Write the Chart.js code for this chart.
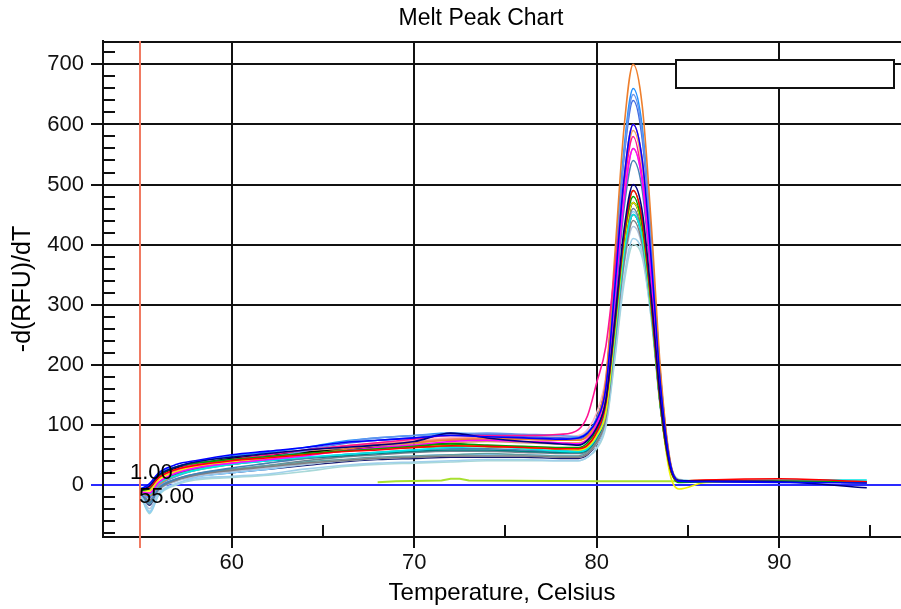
<!DOCTYPE html>
<html><head><meta charset="utf-8">
<script src="https://cdn.jsdelivr.net/npm/chart.js@4.4.1/dist/chart.umd.min.js"></script>
<style>
html,body{margin:0;padding:0;background:#fff;overflow:hidden;width:901px;height:609px}
#wrap{position:absolute;left:0;top:0;width:904px;height:609px}
canvas{display:block}
</style></head>
<body><div id="wrap"><canvas id="c" width="904" height="609"></canvas></div>
<script>
// Temperatures (°C) shared by all sample curves
const TEMPS = [55,55.5,56,57,58,60,62,64,66,68,70,72,74,76,78,79,79.5,80,80.5,81,81.5,82,82.5,83,83.5,84,84.5,86,90,94.8];

// -d(RFU)/dT values per sample
const S01 = [-8,2,20,34,40,50,56,62,70,74,78,82,80,78,76,78,86,108,160,330,510,600,540,370,165,40,6,5,4,3];
const S02 = [-10,-2,16,30,38,46,52,58,62,66,72,86,78,72,68,66,74,95,140,275,425,500,455,310,140,34,7,6,5,-5];
const S03 = [-8,-4,12,26,32,40,45,50,55,58,62,65,64,62,60,60,66,88,135,270,415,490,440,300,135,32,6,8,10,5];
const S04 = [-10,-6,14,30,36,42,47,52,56,60,64,68,66,64,62,62,70,92,140,265,410,480,430,295,130,30,4,5,6,4];
const S05 = [-12,-14,4,20,28,36,42,48,56,62,66,72,74,72,70,68,76,100,160,310,475,560,505,345,155,36,5,6,5,4];
const S06 = [-8,-4,12,26,34,42,50,58,64,70,76,82,82,82,84,92,115,170,230,360,500,580,510,350,155,35,6,7,6,5];
const S07 = [-10,-10,8,22,30,38,44,50,56,60,64,66,64,62,60,58,63,82,120,255,400,470,425,290,130,20,-7,4,5,4];
const S08 = [-12,-16,2,16,24,34,40,46,50,54,58,62,64,60,56,55,60,80,120,245,385,450,410,285,130,34,6,5,8,8];
const S09 = [-12,-18,0,16,24,34,42,50,58,66,70,74,76,76,74,74,82,108,175,385,595,700,630,430,190,45,6,7,6,5];
const S10 = [-14,-22,-2,14,24,36,46,56,70,78,82,84,86,84,82,80,88,110,170,355,550,650,585,400,180,42,6,5,5,4];
const S11 = [-14,-30,-6,10,18,28,36,44,50,54,58,60,60,58,56,56,62,84,130,295,460,540,490,335,150,38,7,6,5,5];
const S12 = [-12,-28,-8,8,16,24,30,36,40,44,46,48,48,48,46,46,52,70,110,235,370,440,400,285,130,35,8,5,5,4];
const S13 = [-8,-4,14,28,34,44,50,54,58,62,64,68,64,62,60,60,64,84,128,255,400,470,425,290,130,32,6,6,5,4];
const S14 = [-14,-44,-14,2,10,14,18,26,32,36,38,40,42,42,40,40,46,62,100,215,345,410,385,275,125,35,8,6,5,6];
const S15 = [-10,-8,10,24,32,40,48,56,64,68,72,76,78,76,74,74,80,102,155,330,510,600,540,370,165,40,6,8,7,5];
const S16 = [-12,-18,2,17,25,34,40,44,48,52,56,58,58,56,54,54,58,78,118,255,400,470,425,290,130,32,6,5,5,4];
const S17 = [-12,-20,2,18,27,38,48,58,68,74,78,84,82,80,78,76,84,108,168,350,545,640,575,395,175,42,6,5,5,4];
const S18 = [-10,-10,8,22,30,40,48,56,64,70,74,78,80,80,80,82,92,120,180,335,510,600,540,370,165,40,6,7,8,6];
const S19 = [-14,-40,-10,6,14,22,28,34,40,44,46,48,48,48,46,46,52,68,108,230,365,430,395,280,128,36,8,6,5,5];
const S20 = [-10,-14,4,20,28,38,46,54,60,64,68,70,72,70,68,68,74,96,145,305,475,560,505,345,155,36,6,8,7,5];
const S21 = [-12,-32,-6,10,18,26,32,38,42,46,48,50,52,50,48,48,54,72,112,245,380,450,410,285,128,34,7,5,5,4];
const S22 = [-12,-26,-4,9,17,25,32,40,46,50,54,56,56,54,52,52,56,76,116,250,390,460,415,290,130,34,7,6,5,5];
const S23 = [-16,-46,-16,2,12,20,26,34,40,44,48,50,50,50,48,48,54,72,112,245,385,455,412,290,132,36,8,6,5,6];
const S24 = [-6,0,18,30,38,48,54,62,72,78,82,86,84,82,80,78,86,112,170,365,560,660,595,405,180,42,6,5,5,4];
const S25 = [-12,-34,-8,8,14,20,26,32,38,42,44,46,46,46,44,44,50,68,108,240,380,450,410,288,130,35,7,6,5,4];
const S26 = [-10,-14,4,18,26,36,44,52,60,66,72,74,74,72,70,70,76,98,150,325,500,590,530,365,162,38,6,8,6,5];
const S27 = [-16,-48,-18,0,8,12,16,22,30,34,36,38,40,40,40,40,46,60,96,210,335,400,378,275,128,38,9,6,5,5];
const S28 = [-10,-8,10,24,31,41,47,52,56,60,62,64,64,62,60,60,66,86,130,270,415,490,440,300,135,32,5,5,6,4];

// Negative control (flat trace)
const CONTROL_TEMPS  = [68,69,71.5,72,72.5,73,80,85,90,94.8];
const CONTROL_VALUES = [4,6,7,10,10,7,6,6,6,5];

// Axis ticks
const X_MAJOR_STEP = 10;
const Y_MAJOR_STEP = 100;
const X_MINOR = [55,65,75,85,95];
const Y_MINOR = [];
for (let v = -80; v <= 720; v += 20) if (v % 100 !== 0) Y_MINOR.push(v);

const CURSOR_T = 55;
const CURSOR_LABEL_Y = "1.00";
const CURSOR_LABEL_X = "55.00";

const SERIES = [S01,S02,S03,S04,S05,S06,S07,S08,S09,S10,S11,S12,S13,S14,S15,S16,S17,S18,S19,S20,S21,S22,S23,S24,S25,S26,S27,S28];
const COLORS = ['#0000ff','#000080','#ff0000','#00a000','#ff00ff','#ff1493','#f0f000','#00e8e8','#ee7f2d','#6495ed',
                '#4682b4','#808080','#000000','#9fd0ea','#fa8072','#008080','#4169e1','#ffb6c1','#b0c4de','#d2a070',
                '#5f9ea0','#708090','#87cefa','#1e90ff','#191970','#f4a460','#a8d8d8','#6b8e23'];

const FONT = "'Liberation Sans', Arial, sans-serif";
const BLUE = '#2a2aff';
const INK = '#111111';

const datasets = SERIES.map((vals, i) => ({
  data: vals.map((v, j) => ({x: TEMPS[j], y: v})),
  borderColor: COLORS[i], borderWidth: 1.6, pointRadius: 0, fill: false,
  cubicInterpolationMode: 'monotone'
}));
datasets.push({
  data: CONTROL_VALUES.map((v, j) => ({x: CONTROL_TEMPS[j], y: v})),
  borderColor: '#a8e030', borderWidth: 2, pointRadius: 0, fill: false
});

const decor = {
  id: 'decor',
  beforeDatasetsDraw(chart) {
    const {ctx, chartArea: a, scales: {x, y}} = chart;
    ctx.save();
    ctx.strokeStyle = INK; ctx.lineWidth = 2;
    ctx.beginPath();
    for (const v of Y_MINOR) { const py = Math.round(y.getPixelForValue(v)); ctx.moveTo(a.left, py); ctx.lineTo(a.left + 12, py); }
    for (const v of X_MINOR) { const px = Math.round(x.getPixelForValue(v)); ctx.moveTo(px, a.bottom); ctx.lineTo(px, a.bottom - 12); }
    ctx.moveTo(a.left, a.top + 1); ctx.lineTo(a.right, a.top + 1);
    ctx.stroke();
    ctx.restore();
  },
  afterDatasetsDraw(chart) {
    const {ctx, chartArea: a, scales: {x, y}} = chart;
    ctx.save();
    // cursor line
    const cx = Math.round(x.getPixelForValue(CURSOR_T));
    ctx.strokeStyle = '#f07a62'; ctx.lineWidth = 2;
    ctx.beginPath(); ctx.moveTo(cx, a.top); ctx.lineTo(cx, a.bottom + 11); ctx.stroke();
    // cursor labels
    ctx.fillStyle = '#000'; ctx.font = '22px ' + FONT; ctx.textAlign = 'left'; ctx.textBaseline = 'alphabetic';
    const y0 = y.getPixelForValue(0);
    ctx.fillText(CURSOR_LABEL_Y, cx - 10, y0 - 6);
    ctx.fillText(CURSOR_LABEL_X, cx - 1, y0 + 18);
    // legend box (empty)
    ctx.fillStyle = '#fff'; ctx.fillRect(a.left + 573, a.top + 19, 218, 28);
    ctx.strokeStyle = INK; ctx.lineWidth = 2;
    ctx.strokeRect(a.left + 573, a.top + 19, 218, 28);
    ctx.restore();
  },
  afterDraw(chart) {
    const {ctx} = chart;
    ctx.save();
    ctx.fillStyle = '#000'; ctx.textAlign = 'center'; ctx.textBaseline = 'alphabetic';
    ctx.font = '23px ' + FONT;
    ctx.fillText('Melt Peak Chart', 481, 25);
    ctx.font = '24px ' + FONT;
    ctx.fillText('Temperature, Celsius', 502, 600);
    ctx.translate(30, 289);
    ctx.rotate(-Math.PI / 2);
    ctx.font = '25px ' + FONT;
    ctx.fillText('-d(RFU)/dT', 0, 0);
    ctx.restore();
  }
};

new Chart(document.getElementById('c'), {
  type: 'line',
  data: {datasets},
  plugins: [decor],
  options: {
    responsive: false, animation: false, devicePixelRatio: 1,
    layout: {padding: {top: 41, right: 2, left: 0, bottom: 0}},
    plugins: {legend: {display: false}, title: {display: false}, tooltip: {enabled: false}},
    scales: {
      x: {
        type: 'linear', min: 52.95, max: 96.73,
        afterFit(s) { s.height = 72; },
        ticks: {stepSize: X_MAJOR_STEP, includeBounds: false, autoSkip: false, maxRotation: 0,
                font: {family: FONT, size: 22}, color: INK, padding: 2},
        grid: {color: INK, lineWidth: 2, tickLength: 11, tickColor: INK, tickWidth: 2},
        border: {display: true, color: INK, width: 2}
      },
      y: {
        min: -87, max: 739,
        afterFit(s) { s.width = 103; },
        ticks: {stepSize: Y_MAJOR_STEP, includeBounds: false, font: {family: FONT, size: 22}, color: INK, padding: 7},
        grid: {
          color: c => (c.tick && c.tick.value === 0) ? BLUE : INK,
          tickColor: c => (c.tick && c.tick.value === 0) ? BLUE : INK,
          lineWidth: 2, tickLength: 12, tickWidth: 2
        },
        border: {display: true, color: INK, width: 2}
      }
    }
  }
});
</script>
</body></html>
